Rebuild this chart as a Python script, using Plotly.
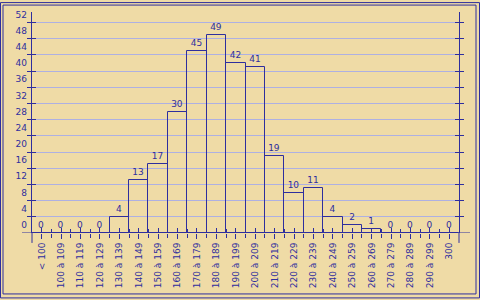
import plotly.graph_objects as go

categories = ["< 100", "100 à 109", "110 à 119", "120 à 129", "130 à 139", "140 à 149",
              "150 à 159", "160 à 169", "170 à 179", "180 à 189", "190 à 199", "200 à 209",
              "210 à 219", "220 à 229", "230 à 239", "240 à 249", "250 à 259", "260 à 269",
              "270 à 279", "280 à 289", "290 à 299", "300"]
counts = [0, 0, 0, 0, 4, 13, 17, 30, 45, 49, 42, 41, 19, 10, 11, 4, 2, 1, 0, 0, 0, 0]
y_tick_values = list(range(4, 53, 4))
y_tick_labels = [str(v) for v in range(0, 53, 4)]

BLUE = "#2e2e9e"
GRID = "#aeb0e2"
BG = "#efdba6"
FONT = dict(family="DejaVu Sans", size=9, color=BLUE)

W, H = 480, 300
L, R, T, B = 32, 21, 10, 67
PW, PH = W - L - R, H - T - B
YMAX = 54.6

def px_x(p):
    return (p - L) / PW

def px_y(p):
    return (T + PH - p) / PH

n = len(categories)
xs = list(range(n))
xr = [-0.5, n - 0.5]
bounds = [i + 0.5 for i in range(n - 1)]

fig = go.Figure()
fig.add_trace(go.Bar(
    x=xs, y=counts, width=1,
    marker=dict(color="rgba(0,0,0,0)", line=dict(color=BLUE, width=1)),
    text=[str(c) for c in counts], textposition="outside",
    textfont=FONT, cliponaxis=False, hoverinfo="skip",
))
# empty helper traces so overlay axes are drawn
fig.add_trace(go.Scatter(x=[], y=[], xaxis="x2", yaxis="y", showlegend=False))
fig.add_trace(go.Scatter(x=[], y=[], xaxis="x", yaxis="y2", showlegend=False))
fig.add_trace(go.Scatter(x=[], y=[], xaxis="x", yaxis="y3", showlegend=False))

fig.update_layout(
    width=W, height=H,
    margin=dict(l=L, r=R, t=T, b=B, pad=0),
    paper_bgcolor=BG, plot_bgcolor="rgba(0,0,0,0)",
    showlegend=False, bargap=0,
    font=FONT,
    xaxis=dict(range=xr, tickmode="array", tickvals=xs, ticktext=categories,
               tickangle=-90, ticks="outside", ticklen=5, tickcolor=BLUE, tickwidth=1,
               minor=dict(tickmode="array", tickvals=bounds, ticks="outside", ticklen=4,
                          tickcolor=BLUE, tickwidth=1, showgrid=False),
               showline=False, showgrid=False, zeroline=False, tickfont=FONT,
               fixedrange=True),
    xaxis2=dict(range=xr, overlaying="x", anchor="y", side="bottom",
                tickmode="array", tickvals=xs, ticks="inside", ticklen=5,
                tickcolor=BLUE, tickwidth=1,
                minor=dict(tickmode="array", tickvals=bounds, ticks="inside", ticklen=4,
                           tickcolor=BLUE, tickwidth=1, showgrid=False),
                showticklabels=False, showline=False, showgrid=False, zeroline=False),
    yaxis=dict(range=[0, YMAX], tickmode="array", tickvals=y_tick_values,
               ticks="outside", ticklen=4, tickcolor=BLUE, tickwidth=1,
               showticklabels=False, showline=True, linecolor=BLUE, linewidth=1,
               mirror="ticks", showgrid=True, gridcolor=GRID, gridwidth=1,
               zeroline=False, fixedrange=True),
    yaxis2=dict(range=[0, YMAX], overlaying="y", anchor="x", side="left",
                tickmode="array", tickvals=y_tick_values, ticks="inside", ticklen=4,
                tickcolor=BLUE, tickwidth=1, mirror="ticks", showline=True,
                linecolor=BLUE, showticklabels=False, showgrid=False, zeroline=False),
    yaxis3=dict(range=[0, YMAX], overlaying="y", anchor="x", side="left",
                tickmode="array", tickvals=[v + 2 for v in range(0, 53, 4)],
                ticktext=y_tick_labels, ticks="", showline=False, showgrid=False,
                zeroline=False, tickfont=FONT, ticklabelstandoff=4),
)

shapes = []
# x axis line extending past the y axes
shapes.append(dict(type="line", xref="paper", yref="y", x0=px_x(22), x1=px_x(470),
                   y0=0, y1=0, line=dict(color=BLUE, width=1)))
# y axis extensions below the baseline
for xp in (0, 1):
    shapes.append(dict(type="line", xref="paper", yref="paper", x0=xp, x1=xp,
                       y0=0, y1=px_y(243), line=dict(color=BLUE, width=1)))
# double frame
shapes.append(dict(type="rect", xref="paper", yref="paper",
                   x0=px_x(0.5), x1=px_x(479.5), y0=px_y(0.5), y1=px_y(298.5),
                   line=dict(color=BLUE, width=1), layer="below"))
shapes.append(dict(type="rect", xref="paper", yref="paper",
                   x0=px_x(3), x1=px_x(476), y0=px_y(3), y1=px_y(294.5),
                   line=dict(color=BLUE, width=1), layer="below"))
fig.update_layout(shapes=shapes)

fig.write_html("out.html", config={"displayModeBar": False})
